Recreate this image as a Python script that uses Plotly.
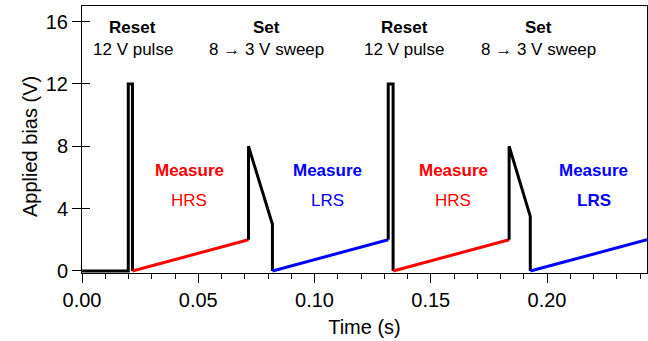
import plotly.graph_objects as go

# ---- waveform data (time in s, bias in V) ----
reset1_t = [0.0, 0.0199, 0.0199, 0.0217, 0.0217]
reset1_v = [0, 0, 12, 12, 0]
hrs1_t = [0.0217, 0.0716]
hrs1_v = [0, 2]
set1_t = [0.0716, 0.0716, 0.0819, 0.0819]
set1_v = [2, 8, 3.0, 0]
lrs1_t = [0.0819, 0.1317]
lrs1_v = [0, 2]
reset2_t = [0.1317, 0.1317, 0.1338, 0.1338]
reset2_v = [2, 12, 12, 0]
hrs2_t = [0.1338, 0.1837]
hrs2_v = [0, 2]
set2_t = [0.1837, 0.1837, 0.1928, 0.1928]
set2_v = [2, 8, 3.5, 0]
lrs2_t = [0.1928, 0.2430]
lrs2_v = [0, 2]

# ---- labels ----
phase_t = [0.0218, 0.0794, 0.1385, 0.1962]
phase_names = ["Reset", "Set", "Reset", "Set"]
phase_desc = ["12 V pulse", "8 \u2192 3 V sweep", "12 V pulse", "8 \u2192 3 V sweep"]
meas_t = [0.0462, 0.1056, 0.1597, 0.2200]
meas_state = ["HRS", "LRS", "HRS", "<b>LRS</b>"]
meas_color = ["#ff0000", "#0000ff", "#ff0000", "#0000ff"]

x_ticks = [0.00, 0.05, 0.10, 0.15, 0.20]
y_ticks = [0, 4, 8, 12, 16]

FONT = "Liberation Sans, Arial, sans-serif"
LW = 3

fig = go.Figure()
for t, v, c in [
    (reset1_t, reset1_v, "black"),
    (hrs1_t, hrs1_v, "#ff0000"),
    (set1_t, set1_v, "black"),
    (lrs1_t, lrs1_v, "#0000ff"),
    (reset2_t, reset2_v, "black"),
    (hrs2_t, hrs2_v, "#ff0000"),
    (set2_t, set2_v, "black"),
    (lrs2_t, lrs2_v, "#0000ff"),
]:
    fig.add_trace(go.Scatter(x=t, y=v, mode="lines", line=dict(color=c, width=LW),
                             showlegend=False, hoverinfo="skip"))

# invisible trace on overlay axis (for crossing y ticks)
fig.add_trace(go.Scatter(x=[None], y=[None], yaxis="y2", showlegend=False, hoverinfo="skip"))

annotations = []
for t, n, d in zip(phase_t, phase_names, phase_desc):
    annotations.append(dict(x=t, y=15.65, text=f"<b>{n}</b>", showarrow=False,
                            xanchor="center", yanchor="middle",
                            font=dict(size=17, color="black", family=FONT)))
    annotations.append(dict(x=t, y=14.22, text=d, showarrow=False,
                            xanchor="center", yanchor="middle",
                            font=dict(size=17, color="black", family=FONT)))
for t, s, c in zip(meas_t, meas_state, meas_color):
    annotations.append(dict(x=t, y=6.45, text="<b>Measure</b>", showarrow=False,
                            xanchor="center", yanchor="middle",
                            font=dict(size=17, color=c, family=FONT)))
    annotations.append(dict(x=t, y=4.53, text=s, showarrow=False,
                            xanchor="center", yanchor="middle",
                            font=dict(size=17, color=c, family=FONT)))

# y-axis title (placed slightly below plot centre, as in the reference)
annotations.append(dict(xref="paper", yref="paper", x=-0.092, y=0.472,
                        text="Applied bias (V)", textangle=-90, showarrow=False,
                        xanchor="center", yanchor="middle",
                        font=dict(size=20, color="black", family=FONT)))

fig.update_layout(
    width=648, height=341,
    margin=dict(l=82, r=1, t=6, b=68),
    paper_bgcolor="white", plot_bgcolor="white",
    font=dict(family=FONT, color="black", size=20),
    annotations=annotations,
    xaxis=dict(
        range=[0, 0.2430], tickvals=x_ticks, tickformat=".2f",
        ticks="outside", ticklen=9, tickcolor="black", tickwidth=1,
        minor=dict(dtick=0.01, tick0=0, ticks="outside", ticklen=5, tickcolor="black", tickwidth=1),
        showline=True, linecolor="black", linewidth=1, mirror=True,
        showgrid=False, zeroline=False,
        tickfont=dict(size=20),
        title=dict(text="Time (s)", font=dict(size=20), standoff=9),
    ),
    yaxis=dict(
        range=[-0.13, 17.0], tickvals=y_ticks,
        ticks="outside", ticklen=9, tickcolor="black", tickwidth=1,
        showline=True, linecolor="black", linewidth=1, mirror=True,
        showgrid=False, zeroline=False,
        tickfont=dict(size=20),
    ),
    yaxis2=dict(
        overlaying="y", side="left", range=[-0.13, 17.0], tickvals=y_ticks,
        ticks="inside", ticklen=8, tickcolor="black", tickwidth=1,
        showticklabels=False, showline=False, showgrid=False, zeroline=False,
    ),
)

fig.write_html("out.html")
